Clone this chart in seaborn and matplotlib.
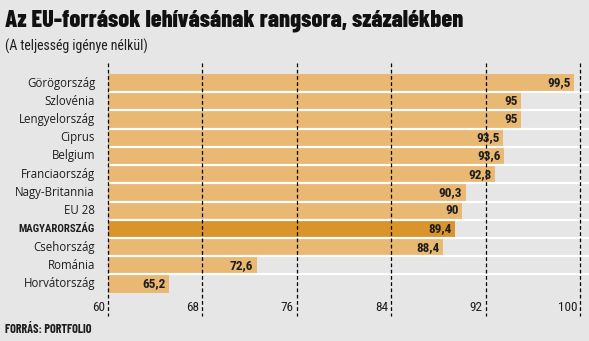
import matplotlib
matplotlib.use("Agg")
import matplotlib.pyplot as plt
import seaborn as sns
import pandas as pd

categories = ["Görögország", "Szlovénia", "Lengyelország", "Ciprus", "Belgium",
              "Franciaország", "Nagy-Britannia", "EU 28", "MAGYARORSZÁG",
              "Csehország", "Románia", "Horvátország"]
values = [99.5, 95, 95, 93.5, 93.6, 92.8, 90.3, 90, 89.4, 88.4, 72.6, 65.2]
value_labels = ["99,5", "95", "95", "93,5", "93,6", "92,8", "90,3", "90", "89,4",
                "88,4", "72,6", "65,2"]
highlight = "MAGYARORSZÁG"
x_ticks = [60, 68, 76, 84, 92, 100]

BG = "#e6e6e6"
BAR = "#e9b872"
BAR_HI = "#d9942c"
INK = "#1e1e1e"

sns.set_theme(style="white")
BODY = ["Roboto Condensed", "DejaVu Sans"]
LABEL = ["Open Sans", "DejaVu Sans"]
HEAVY = ["Barlow Condensed", "Roboto Condensed", "DejaVu Sans"]
plt.rcParams["font.family"] = BODY

W, H = 589, 341
fig = plt.figure(figsize=(W / 100, H / 100), dpi=100, facecolor=BG)
ax = fig.add_axes([108 / W, (H - 316) / H, (W - 108) / W, (316 - 63) / H])
ax.set_facecolor(BG)

df = pd.DataFrame({"country": categories, "value": values})
palette = {c: (BAR_HI if c == highlight else BAR) for c in categories}
sns.barplot(data=df, x="value", y="country", hue="country", palette=palette,
            legend=False, width=1.0, orient="h", ax=ax, saturation=1,
            linewidth=0)

# bars start from the 60 baseline
for patch, v in zip(ax.patches, values):
    patch.set_x(60)
    patch.set_width(v - 60)

ax.set_xlim(60, 60 + (W - 108) / 11.8)
ax.set_ylim(12.78, -1.1)
for s in ax.spines.values():
    s.set_visible(False)
ax.set_xticks([])
ax.set_yticks([])
ax.set_xlabel("")
ax.set_ylabel("")

# white row separators
for k in range(len(categories) - 1):
    ax.axhline(k + 0.5, color="white", lw=1.6, zorder=3)

# dashed vertical grid with its labels
for t in x_ticks:
    ax.plot([t, t], [-1.1, 12.78], color="black", lw=0.9,
            linestyle=(0, (3, 2)), zorder=4, clip_on=False)
    ax.text(t - 0.25, 12.3, str(t), ha="right", va="center", fontsize=9.5,
            color=INK, zorder=5)

# value labels at bar ends
for i, (v, lab) in enumerate(zip(values, value_labels)):
    ax.text(v - 0.3, i, lab, ha="right", va="center", fontsize=9.5,
            fontweight="bold", color=INK, zorder=5)

# category labels
for i, c in enumerate(categories):
    is_hi = c == highlight
    ax.annotate(c, xy=(60, i), xycoords="data", xytext=(-13, 0),
                textcoords="offset pixels", ha="right", va="center",
                fontsize=7.8 if is_hi else 8.3, color=INK,
                family=BODY if is_hi else LABEL,
                fontweight="bold" if is_hi else "normal",
                annotation_clip=False)

fig.text(5 / W, 1 - 27 / H, "Az EU-források lehívásának rangsora, százalékben",
         ha="left", va="baseline", fontsize=17.5, fontweight="heavy",
         family=HEAVY, color="#111111")
fig.text(5 / W, 1 - 46 / H, "(A teljesség igénye nélkül)", ha="left", va="center",
         fontsize=10, color=INK)
fig.text(5 / W, 1 - 329 / H, "FORRÁS: PORTFOLIO", ha="left", va="center",
         fontsize=8.8, fontweight="bold", family=HEAVY, color=INK)

fig.savefig("out.png", dpi=100, facecolor=BG)
